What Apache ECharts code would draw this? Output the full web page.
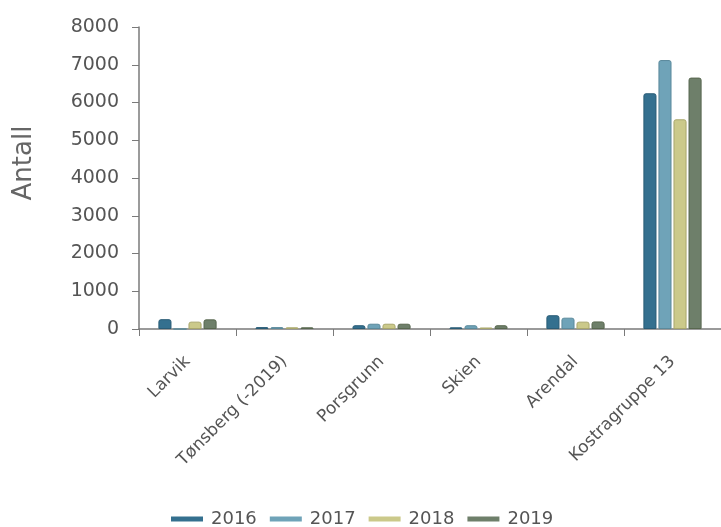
<!DOCTYPE html>
<html>
<head>
<meta charset="utf-8">
<script src="https://cdn.jsdelivr.net/npm/echarts@6/dist/echarts.min.js"></script>
<style>
  html, body { margin: 0; padding: 0; background: #fff; }
  #chart { width: 721px; height: 527px; }
</style>
</head>
<body>
<div id="chart"></div>
<script>
// Municipalities compared with their KOSTRA group
const categories = ['Larvik', 'Tønsberg (-2019)', 'Porsgrunn', 'Skien', 'Arendal', 'Kostragruppe 13'];
const years = ['2016', '2017', '2018', '2019'];
const values2016 = [260, 50, 100, 45, 365, 6245];
const values2017 = [0, 50, 140, 100, 300, 7125];
const values2018 = [195, 45, 140, 40, 195, 5555];
const values2019 = [255, 45, 140, 100, 200, 6660];
const yTicks = { min: 0, max: 8000, interval: 1000 };
const yTitle = 'Antall';

const palette = ['#34708f', '#6fa3b8', '#cbc98a', '#6e7f6a'];
const borders = ['#2a5c76', '#5b8a9c', '#a9a76c', '#58674f'];
const seriesValues = [values2016, values2017, values2018, values2019];
const FONT = 'DejaVu Sans, Verdana, sans-serif';

const chart = echarts.init(document.getElementById('chart'), null, { renderer: 'canvas' });

chart.setOption({
  animation: false,
  textStyle: { fontFamily: FONT },
  grid: { left: 139, top: 27, width: 585, height: 302, containLabel: false },
  graphic: [{
    type: 'text',
    x: 24,
    y: 163,
    rotation: Math.PI / 2,
    style: {
      text: yTitle,
      fontFamily: FONT,
      fontSize: 26,
      fill: '#666',
      align: 'center',
      verticalAlign: 'middle'
    }
  }],
  legend: {
    top: 505,
    left: 166,
    itemWidth: 32,
    itemHeight: 5,
    itemGap: 13,
    icon: 'rect',
    itemStyle: { borderWidth: 0 },
    textStyle: { fontSize: 18, color: '#555', padding: [0, 0, 0, 3] },
    data: years
  },
  xAxis: {
    type: 'category',
    data: categories,
    axisLine: { lineStyle: { color: '#7a7a7a', width: 1.5 } },
    axisTick: { show: true, length: 7, lineStyle: { color: '#7a7a7a' } },
    axisLabel: { rotate: 45, fontSize: 17, color: '#555', margin: 30, interval: 0 }
  },
  yAxis: {
    type: 'value',
    min: yTicks.min,
    max: yTicks.max,
    interval: yTicks.interval,
    splitLine: { show: false },
    axisLine: { show: true, lineStyle: { color: '#7a7a7a', width: 1.5 } },
    axisTick: { show: true, length: 7, lineStyle: { color: '#7a7a7a' } },
    axisLabel: { fontSize: 19, color: '#555', margin: 20, formatter: v => String(v) }
  },
  series: years.map((y, i) => ({
    name: y,
    type: 'bar',
    data: seriesValues[i],
    barGap: '15%',
    barCategoryGap: '40%',
    itemStyle: { color: palette[i], borderColor: borders[i], borderWidth: 1, borderRadius: [2, 2, 0, 0] }
  }))
});
</script>
</body>
</html>
